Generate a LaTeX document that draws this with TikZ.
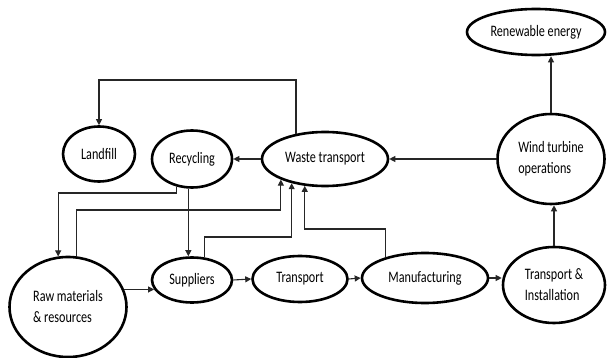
\documentclass[tikz,border=0pt]{standalone}
\usepackage{fontspec}
\setmainfont{Carlito}[FakeStretch=0.76]
\usetikzlibrary{shapes.geometric,arrows.meta}
\begin{document}
\begin{tikzpicture}[x=1pt,y=-1pt,
  el/.style={ellipse,draw=black,line width=2.6pt,inner sep=0pt,align=left,
    font=\fontsize{16}{21}\selectfont},
  arr/.style={draw=black!85,line width=1.1pt,-{Triangle[length=6pt,width=6pt]}}]
\useasboundingbox (0,0) rectangle (607,358);
\node[el,minimum width=138pt,minimum height=46pt] (ren) at (536,32) {Renewable energy};
\node[el,minimum width=107pt,minimum height=90pt] (wind) at (551,159) {Wind turbine\\operations};
\node[el,minimum width=126pt,minimum height=54pt] (waste) at (325,159) {Waste transport};
\node[el,minimum width=80pt,minimum height=57pt] (rec) at (192,159) {Recycling};
\node[el,minimum width=72pt,minimum height=55pt] (lf) at (99,154) {Landfill};
\node[el,minimum width=117pt,minimum height=100pt] (raw) at (68,307) {Raw materials\\\& resources};
\node[el,minimum width=80pt,minimum height=45pt] (sup) at (192,280) {Suppliers};
\node[el,minimum width=95pt,minimum height=46pt] (tr) at (300,279) {Transport};
\node[el,minimum width=126pt,minimum height=50pt] (man) at (425,278) {Manufacturing};
\node[el,minimum width=102pt,minimum height=76pt] (ti) at (554,285) {Transport \&\\Installation};
\coordinate (top) at (0,80);
\coordinate (h1) at (0,193);
\coordinate (h2) at (0,210);
\coordinate (h3) at (0,237);
\coordinate (h4) at (0,229);
% main chain
\draw[arr] (raw.18 |- sup.194) -- (sup.194);
\draw[arr] (sup.east) -- (tr.west);
\draw[arr] (tr.east) -- (man.west);
\draw[arr] (man.east) -- (man.east -| ti.west);
\draw[arr] (ti.north) -- (ti.north |- wind.south);
\draw[arr] (wind.north) -- (wind.north |- ren.south);
\draw[arr] (wind.west) -- (waste.east);
\draw[arr] (waste.west) -- (rec.east);
% waste to landfill
\draw[arr] (waste.139) -- (waste.139 |- top) -| (lf.north);
% recycling outputs
\draw[arr] (rec.240) -- (rec.240 |- h1) -| (raw.101);
\draw[arr] (rec.263) -- (rec.263 |- sup.north);
% flows into waste transport
\draw[arr] (raw.80) -- (raw.80 |- h2) -| (waste.205);
\draw[arr] (sup.61) -- (sup.61 |- h3) -| (waste.216);
\draw[arr] (man.152) -- (man.152 |- h4) -| (waste.233);
\end{tikzpicture}
\end{document}
